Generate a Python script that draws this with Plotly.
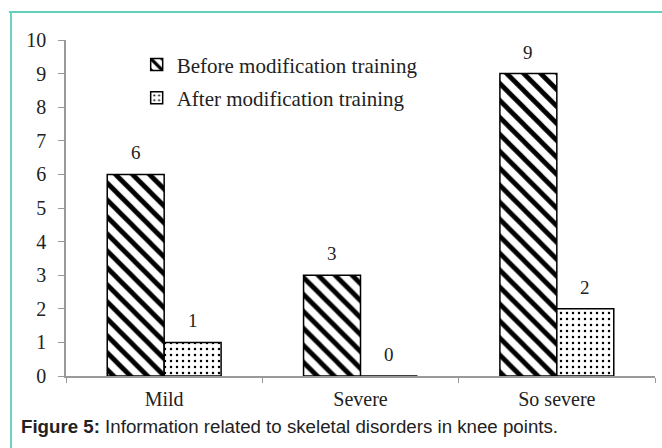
import plotly.graph_objects as go

categories = ["Mild", "Severe", "So severe"]
before = [6, 3, 9]
after = [1, 0, 2]
series_names = ["Before modification training", "After modification training"]
y_ticks = list(range(0, 11))

SERIF = "Liberation Serif, Times New Roman, serif"
fig = go.Figure()
fig.add_trace(go.Bar(
    x=categories, y=before, name=series_names[0],
    marker=dict(color="white", line=dict(color="black", width=1.5),
                pattern=dict(shape="\\", fgcolor="#000000", fgopacity=1, bgcolor="white",
                             size=12, solidity=0.4, fillmode="replace")),
    legendgroup="a",
))
fig.add_trace(go.Bar(
    x=categories, y=after, name=series_names[1],
    marker=dict(color="white", line=dict(color="black", width=1.5),
                pattern=dict(shape=".", fgcolor="#000000", fgopacity=1, bgcolor="white",
                             size=6, solidity=0.14, fillmode="replace")),
    legendgroup="b",
))

# value labels
for vals, shift in ((before, -28.5), (after, 28.5)):
    for c, v in zip(categories, vals):
        fig.add_annotation(x=c, y=v, xref="x", yref="y", text=str(v), showarrow=False,
                           xshift=shift, yshift=9, yanchor="bottom",
                           font=dict(family=SERIF, size=19, color="#222"))

# caption
fig.add_annotation(xref="paper", yref="paper", x=-0.08, y=-0.149, xanchor="left", yanchor="middle",
                   text="<b>Figure 5:</b> Information related to skeletal disorders in knee points.",
                   showarrow=False, font=dict(family="Liberation Sans, Arial, sans-serif", size=18.7, color="#222"))

# teal frame
fig.add_shape(type="line", xref="paper", yref="paper", x0=-0.097, x1=1.02, y0=1.0833, y1=1.0833,
              line=dict(color="#2cc2a8", width=1.5))
fig.add_shape(type="line", xref="paper", yref="paper", x0=-0.0934, x1=-0.0934, y0=1.0833, y1=-0.22,
              line=dict(color="#6fd3c4", width=2))

fig.update_layout(
    width=662, height=448,
    margin=dict(l=66, r=7, t=40, b=72),
    paper_bgcolor="white", plot_bgcolor="white",
    barmode="group", bargap=0.42, bargroupgap=0,
    showlegend=True,
    legend=dict(x=0.12, y=0.987, xanchor="left", yanchor="top", bgcolor="rgba(0,0,0,0)",
                font=dict(family=SERIF, size=21, color="#222"), tracegroupgap=3, traceorder="grouped",
                itemwidth=30),
    xaxis=dict(showline=True, linecolor="#999", linewidth=1.5, ticks="outside", tickson="boundaries",
               ticklen=5, tickcolor="#999", tickfont=dict(family=SERIF, size=20, color="#222"),
               ticklabelstandoff=4, showgrid=False, zeroline=False),
    yaxis=dict(range=[0, 10], tickvals=y_ticks, showline=True, linecolor="#999", linewidth=1.5,
               ticks="outside", ticklen=6, tickcolor="#999", showgrid=False, zeroline=False,
               ticklabelstandoff=8, tickfont=dict(family=SERIF, size=20, color="#222")),
)
fig.write_html("out.html", config={"displayModeBar": False},
               post_script="document.body.style.margin='0';document.body.style.padding='0';")
